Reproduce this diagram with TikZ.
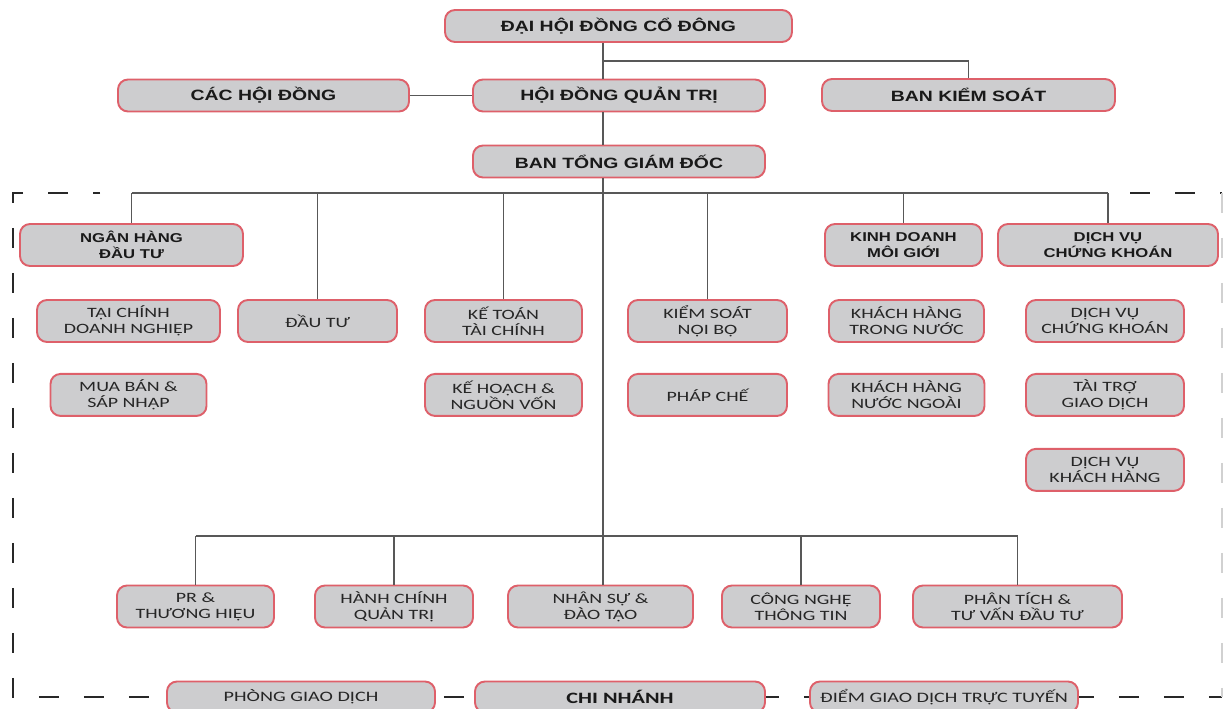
\documentclass[tikz,border=0pt]{standalone}
\usepackage{fontspec}
\setmainfont{Liberation Sans}
\newfontfamily\hdfont[FakeStretch=1.3]{Liberation Sans}
\newfontfamily\subfont[FakeStretch=1.4]{Carlito}
\usepackage{tikz}
\usetikzlibrary{positioning,calc}
\usepackage{xcolor}
\definecolor{boxgray}{RGB}{205,205,207}
\definecolor{boxred}{RGB}{222,96,106}
\definecolor{linegray}{RGB}{88,88,88}
\definecolor{framegray}{RGB}{40,40,40}

\begin{document}
\begin{tikzpicture}
\tikzset{
  unit/.style={draw=boxred, line width=1.1pt, fill=boxgray, rounded corners=2mm, align=center, inner sep=1pt},
  topbox/.style={unit, minimum width=#1, minimum height=0.64cm, text=black!90, font=\hdfont\bfseries\fontsize{8.5}{10}\selectfont},
  topbox/.default=5.84cm,
  headbox/.style={unit, minimum width=#1, minimum height=0.84cm, text=black!90, font=\hdfont\bfseries\fontsize{7.3}{8.8}\selectfont},
  headbox/.default=3.14cm,
  subbox/.style={unit, minimum width=#1, minimum height=0.84cm, text=black!85, font=\subfont\fontsize{8.1}{9.2}\selectfont},
  subbox/.default=3.16cm,
  footbox/.style={unit, minimum width=#1, minimum height=0.62cm, text=black!85, font=\subfont\fontsize{8.2}{9}\selectfont},
  footbox/.default=5.36cm,
  link/.style={draw=linegray, line width=0.8pt},
  frame/.style={draw=framegray, line width=1.2pt, dash pattern=on 0.4cm off 0.5cm}
}
\useasboundingbox (0,0) rectangle (24.5,-14.18);

% dashed frame round the operating units
\draw[frame, dash phase=0.26cm] (2.0,-3.86) -- (0.26,-3.86) -- (0.26,-13.94) -- (24.44,-13.94);
\draw[frame] (22.6,-3.86) -- (24.44,-3.86);
\draw[frame, draw=black!18] (24.44,-3.86) -- (24.44,-13.94);

% governing bodies
\node[topbox=6.94cm] (dhcd) at (12.37,-0.52) {ĐẠI HỘI ĐỒNG CỔ ĐÔNG};
\node[topbox=5.82cm] (chd) at (5.27,-1.91) {CÁC HỘI ĐỒNG};
\node[topbox] (hdqt) at (12.38,-1.91) {HỘI ĐỒNG QUẢN TRỊ};
\node[topbox=5.86cm] (bks) at (19.37,-1.90) {BAN KIỂM SOÁT};
\node[topbox] (btgd) at (12.38,-3.23) {BAN TỔNG GIÁM ĐỐC};

% blocks
\node[headbox=4.46cm] (nhdt) at (2.63,-4.90) {NGÂN HÀNG\\ĐẦU TƯ};
\node[headbox] (kdmg) at (18.07,-4.90) {KINH DOANH\\MÔI GIỚI};
\node[headbox=4.40cm] (dvck) at (22.16,-4.90) {DỊCH VỤ\\CHỨNG KHOÁN};

% departments
\node[subbox=3.66cm] (tcdn) at (2.57,-6.42) {TẠI CHÍNH\\DOANH NGHIỆP};
\node[subbox=3.12cm, below=0.6cm of tcdn] (mbsn) {MUA BÁN \&\\SÁP NHẬP};
\node[subbox=3.18cm] (dautu) at (6.35,-6.42) {ĐẦU TƯ};
\node[subbox=3.14cm] (ktct) at (10.07,-6.42) {KẾ TOÁN\\TÀI CHÍNH};
\node[subbox=3.14cm, below=0.6cm of ktct] (khnv) {KẾ HOẠCH \&\\NGUỒN VỐN};
\node[subbox=3.18cm] (ksnb) at (14.15,-6.42) {KIỂM SOÁT\\NỘI BỘ};
\node[subbox=3.18cm, below=0.6cm of ksnb] (phche) {PHÁP CHẾ};
\node[subbox=3.10cm] (khtn) at (18.13,-6.42) {KHÁCH HÀNG\\TRONG NƯỚC};
\node[subbox=3.12cm, below=0.6cm of khtn] (khnn) {KHÁCH HÀNG\\NƯỚC NGOÀI};
\node[subbox] (dvck2) at (22.10,-6.42) {DỊCH VỤ\\CHỨNG KHOÁN};
\node[subbox, below=0.6cm of dvck2] (ttgd) {TÀI TRỢ\\GIAO DỊCH};
\node[subbox, below=0.62cm of ttgd] (dvkh) {DỊCH VỤ\\KHÁCH HÀNG};

% support units
\node[subbox=3.14cm] (pr) at (3.91,-12.13) {PR \&\\THƯƠNG HIỆU};
\node[subbox] (hcqt) at (7.88,-12.13) {HÀNH CHÍNH\\QUẢN TRỊ};
\node[subbox=3.70cm] (nsdt) at (12.01,-12.13) {NHÂN SỰ \&\\ĐÀO TẠO};
\node[subbox] (cntt) at (16.02,-12.13) {CÔNG NGHỆ\\THÔNG TIN};
\node[subbox=4.18cm] (ptdt) at (20.35,-12.13) {PHÂN TÍCH \&\\TƯ VẤN ĐẦU TƯ};

% network
\node[footbox] (pgd) at (6.02,-13.94) {PHÒNG GIAO DỊCH};
\node[footbox=5.80cm, font=\subfont\bfseries\fontsize{9}{10}\selectfont, text=black!90] (cn) at (12.40,-13.94) {CHI NHÁNH};
\node[footbox] (dgd) at (18.88,-13.94) {ĐIỂM GIAO DỊCH TRỰC TUYẾN};

\coordinate (trunk) at (12.06,0);
\coordinate (ksline) at (0,-1.22);
\coordinate (bus) at (0,-3.86);
\coordinate (lowbus) at (0,-10.72);

\draw[link] (dhcd.south -| trunk) -- (hdqt.north -| trunk);
\draw[link] (hdqt.south -| trunk) -- (btgd.north -| trunk);
\draw[link] (btgd.south -| trunk) -- (nsdt.north -| trunk);
\draw[link] (chd) -- (hdqt);
\draw[link] (trunk |- ksline) -| (bks.north);
\draw[link] (nhdt.north |- bus) -- (dvck.north |- bus);
\foreach \n in {nhdt, dautu, ktct, ksnb, kdmg, dvck}
  \draw[link] (\n.north) -- (\n.north |- bus);
\draw[link] (pr.north |- lowbus) -- (ptdt.north |- lowbus);
\foreach \n in {pr, hcqt, cntt, ptdt}
  \draw[link] (\n.north) -- (\n.north |- lowbus);
\end{tikzpicture}
\end{document}
